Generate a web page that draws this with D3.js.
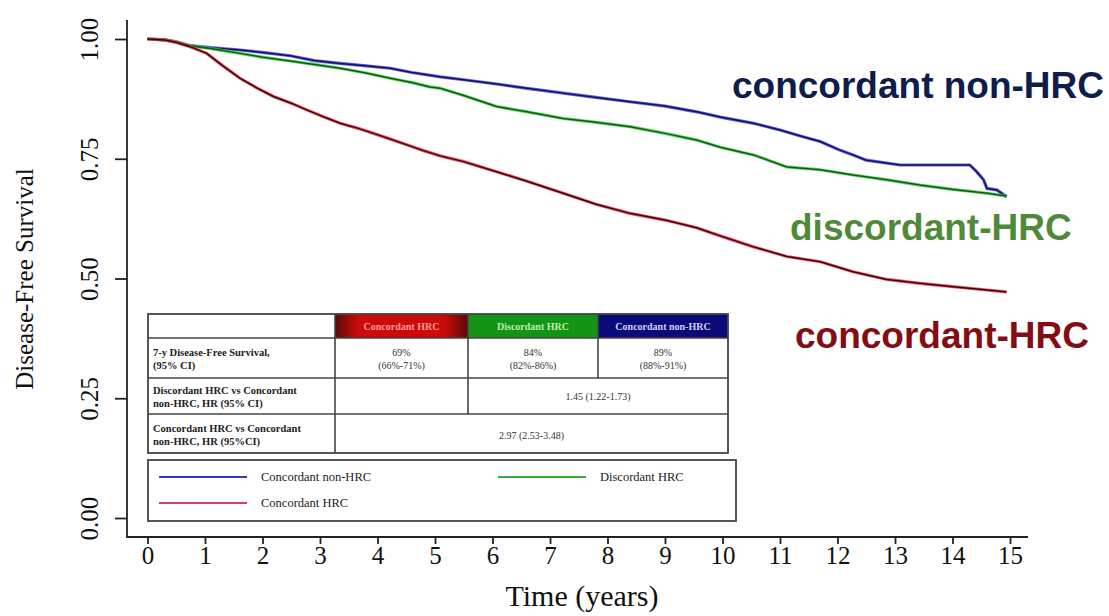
<!DOCTYPE html>
<html lang="en">
<head>
<meta charset="UTF-8">
<title>Disease-Free Survival</title>
<script src="https://d3js.org/d3.v7.min.js"></script>
<style>
  body { margin: 0; background: #fff; }
  svg text { font-family: "Liberation Serif", "Times New Roman", serif; }
</style>
</head>
<body>
<div id="chart"></div>
<script>
// Kaplan-Meier readings [years, survival]
const nonHrc = [[0,1.0],[0.3,0.998],[0.5,0.994],[0.74,0.986],[1.1,0.982],[1.61,0.977],[2.0,0.972],[2.48,0.965],[2.9,0.955],[3.35,0.949],[3.8,0.944],[4.22,0.939],[4.6,0.930],[5.09,0.921],[5.5,0.915],[6.07,0.906],[6.6,0.897],[7.23,0.887],[7.8,0.878],[8.39,0.869],[9.0,0.860],[9.55,0.848],[9.96,0.837],[10.54,0.824],[11.0,0.810],[11.4,0.796],[11.7,0.786],[12.04,0.768],[12.27,0.758],[12.5,0.747],[13.09,0.737],[14.3,0.737],[14.42,0.723],[14.54,0.706],[14.6,0.688],[14.77,0.685],[14.94,0.671]];
const discordant = [[0,1.0],[0.3,0.998],[0.5,0.994],[0.74,0.986],[1.1,0.980],[1.61,0.970],[2.0,0.962],[2.48,0.954],[2.9,0.947],[3.35,0.939],[3.8,0.929],[4.22,0.918],[4.6,0.909],[4.91,0.900],[5.09,0.897],[5.5,0.882],[6.07,0.859],[6.6,0.848],[7.23,0.834],[7.8,0.826],[8.39,0.817],[9.0,0.803],[9.55,0.789],[9.96,0.774],[10.54,0.758],[11.12,0.733],[11.7,0.727],[12.27,0.716],[12.86,0.706],[13.43,0.695],[14.01,0.686],[14.6,0.678],[14.94,0.672]];
const concHrc = [[0,1.0],[0.3,0.998],[0.5,0.993],[0.74,0.984],[1.03,0.970],[1.3,0.945],[1.61,0.918],[1.9,0.898],[2.19,0.880],[2.5,0.866],[2.77,0.852],[3.05,0.838],[3.35,0.824],[3.65,0.814],[3.93,0.803],[4.2,0.792],[4.51,0.779],[4.8,0.767],[5.09,0.756],[5.5,0.744],[6.07,0.723],[6.6,0.703],[7.23,0.678],[7.8,0.655],[8.39,0.636],[9.0,0.622],[9.55,0.606],[9.96,0.589],[10.54,0.566],[11.12,0.546],[11.7,0.535],[12.27,0.514],[12.86,0.498],[13.43,0.490],[14.01,0.483],[14.6,0.476],[14.94,0.472]];

const xTicks = d3.range(0, 16);
const yTicks = [0, 0.25, 0.5, 0.75, 1.0];

const groups = ["Concordant HRC", "Discordant HRC", "Concordant non-HRC"];
const dfs7 = ["69%", "84%", "89%"];
const dfs7ci = ["(66%-71%)", "(82%-86%)", "(88%-91%)"];
const hrDiscordant = "1.45 (1.22-1.73)";
const hrConcordant = "2.97 (2.53-3.48)";

const W = 1109, H = 616;
const svg = d3.select("#chart").append("svg").attr("width", W).attr("height", H);

const x = d3.scaleLinear().domain([0, 15]).range([147.5, 1010]);
const y = d3.scaleLinear().domain([0, 1]).range([518, 39]);

// L-shaped frame
svg.append("path")
  .attr("d", "M127,20 V537 H1028")
  .attr("fill", "none").attr("stroke", "#222").attr("stroke-width", 1.8);

// axes
const xAxis = svg.append("g").attr("transform", "translate(0,537)")
  .call(d3.axisBottom(x).tickValues(xTicks).tickSize(7).tickFormat(d3.format("d")));
const yAxis = svg.append("g").attr("transform", "translate(127,0)")
  .call(d3.axisLeft(y).tickValues(yTicks).tickSize(12).tickFormat(d3.format(".2f")));
[xAxis, yAxis].forEach(a => {
  a.select(".domain").remove();
  a.selectAll("line").attr("stroke", "#222").attr("stroke-width", 1.8);
  a.selectAll("text").attr("fill", "#111").style("font-size", "25px")
    .style("font-family", "'Liberation Serif', serif");
});
xAxis.selectAll("text").attr("y", 27).attr("dy", 0);
yAxis.selectAll("text")
  .attr("transform", "rotate(-90)").attr("x", 0).attr("y", -29).attr("dy", 0)
  .attr("text-anchor", "middle");

svg.append("text").attr("x", 582).attr("y", 606).attr("text-anchor", "middle")
  .style("font-size", "30px").attr("fill", "#111").text("Time (years)");
svg.append("text").attr("transform", "translate(33,279) rotate(-90)").attr("text-anchor", "middle")
  .style("font-size", "25px").attr("fill", "#111").text("Disease-Free Survival");

// curves
const line = d3.line().x(d => x(d[0])).y(d => y(d[1]));
const curves = [
  { data: nonHrc, halo: "#3a3ad8", core: "#141460" },
  { data: discordant, halo: "#2fcf3a", core: "#145a14" },
  { data: concHrc, halo: "#f02a44", core: "#3a0808" }
];
curves.forEach(c => {
  svg.append("path").datum(c.data).attr("d", line).attr("fill", "none")
    .attr("stroke", c.halo).attr("stroke-width", 3.2).attr("stroke-opacity", 0.8);
  svg.append("path").datum(c.data).attr("d", line).attr("fill", "none")
    .attr("stroke", c.core).attr("stroke-width", 1.5);
});

// big labels
const big = [
  { t: "concordant non-HRC", x: 732, y: 98, c: "#0f1d4d" },
  { t: "discordant-HRC", x: 790, y: 240, c: "#4f8a3a" },
  { t: "concordant-HRC", x: 795, y: 348, c: "#820d12" }
];
svg.selectAll(".big").data(big).enter().append("text")
  .attr("x", d => d.x).attr("y", d => d.y).attr("fill", d => d.c)
  .style("font-family", "'Liberation Sans', Arial, sans-serif")
  .style("font-weight", "bold").style("font-size", "37px").text(d => d.t);

// table
const defs = svg.append("defs");
const rg = defs.append("linearGradient").attr("id", "redHead");
rg.append("stop").attr("offset", "0%").attr("stop-color", "#5a0a08");
rg.append("stop").attr("offset", "18%").attr("stop-color", "#cc0a0a");
rg.append("stop").attr("offset", "82%").attr("stop-color", "#cc0a0a");
rg.append("stop").attr("offset", "100%").attr("stop-color", "#5a0a08");

const colX = [148, 335, 468, 598, 728];
const rowY = [314, 338, 378, 414, 453];
const T = svg.append("g");
const headFill = ["url(#redHead)", "#149414", "#0a0a78"];
const headText = ["#ff9a9a", "#b8f0b0", "#cfd0ff"];
T.append("rect").attr("x", colX[0]).attr("y", rowY[0]).attr("width", colX[4] - colX[0]).attr("height", rowY[4] - rowY[0]).attr("fill", "#fff");
groups.forEach((g, i) => {
  T.append("rect").attr("x", colX[i + 1]).attr("y", rowY[0]).attr("width", colX[i + 2] - colX[i + 1]).attr("height", rowY[1] - rowY[0]).attr("fill", headFill[i]);
  T.append("text").attr("x", (colX[i + 1] + colX[i + 2]) / 2).attr("y", 330).attr("text-anchor", "middle")
    .style("font-size", "10px").style("font-weight", "bold").attr("fill", headText[i]).text(g);
  T.append("text").attr("x", (colX[i + 1] + colX[i + 2]) / 2).attr("y", 356).attr("text-anchor", "middle")
    .style("font-size", "10px").attr("fill", "#333").text(dfs7[i]);
  T.append("text").attr("x", (colX[i + 1] + colX[i + 2]) / 2).attr("y", 369).attr("text-anchor", "middle")
    .style("font-size", "10px").attr("fill", "#333").text(dfs7ci[i]);
});
const rowLabels = [
  ["7-y Disease-Free Survival,", "(95% CI)", 356],
  ["Discordant HRC vs Concordant", "non-HRC, HR (95% CI)", 394],
  ["Concordant HRC vs Concordant", "non-HRC, HR (95%CI)", 432]
];
rowLabels.forEach(r => {
  T.append("text").attr("x", 153).attr("y", r[2]).style("font-size", "10.5px").style("font-weight", "bold").attr("fill", "#222").text(r[0]);
  T.append("text").attr("x", 153).attr("y", r[2] + 13).style("font-size", "10.5px").style("font-weight", "bold").attr("fill", "#222").text(r[1]);
});
T.append("text").attr("x", (colX[2] + colX[4]) / 2).attr("y", 400).attr("text-anchor", "middle").style("font-size", "10px").attr("fill", "#333").text(hrDiscordant);
T.append("text").attr("x", (colX[1] + colX[4]) / 2).attr("y", 439).attr("text-anchor", "middle").style("font-size", "10px").attr("fill", "#333").text(hrConcordant);

const gridStroke = "#444";
const seg = (x1, y1, x2, y2) => T.append("line").attr("x1", x1).attr("y1", y1).attr("x2", x2).attr("y2", y2).attr("stroke", gridStroke).attr("stroke-width", 1.6);
T.append("rect").attr("x", colX[0]).attr("y", rowY[0]).attr("width", colX[4] - colX[0]).attr("height", rowY[4] - rowY[0]).attr("fill", "none").attr("stroke", gridStroke).attr("stroke-width", 1.8);
[1, 2, 3].forEach(r => seg(colX[0], rowY[r], colX[4], rowY[r]));
seg(colX[1], rowY[0], colX[1], rowY[4]);
seg(colX[2], rowY[0], colX[2], rowY[3]);
seg(colX[3], rowY[0], colX[3], rowY[2]);

// legend
const L = svg.append("g");
L.append("rect").attr("x", 148).attr("y", 460).attr("width", 588).attr("height", 61).attr("fill", "#fff").attr("stroke", gridStroke).attr("stroke-width", 1.8);
const legendItems = [
  { t: "Concordant non-HRC", c: "#3434c4", x: 159, y: 477 },
  { t: "Discordant HRC", c: "#3aaa3a", x: 498, y: 477 },
  { t: "Concordant HRC", c: "#d44466", x: 159, y: 503 }
];
legendItems.forEach(d => {
  L.append("line").attr("x1", d.x).attr("x2", d.x + 88).attr("y1", d.y).attr("y2", d.y).attr("stroke", d.c).attr("stroke-width", 2);
  L.append("text").attr("x", d.x + 102).attr("y", d.y + 4).style("font-size", "12.5px").attr("fill", "#222").text(d.t);
});
</script>
</body>
</html>
